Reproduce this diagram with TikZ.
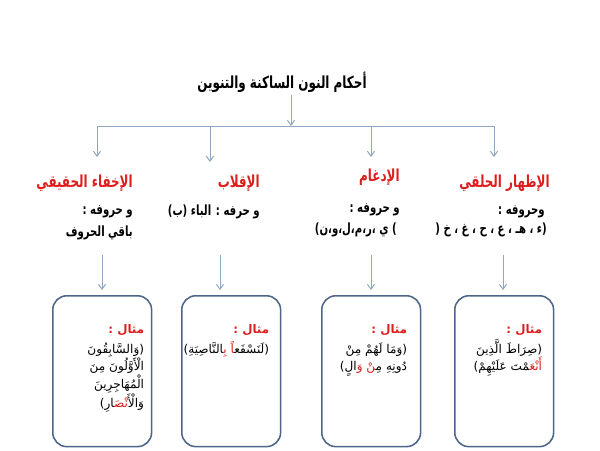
\documentclass[tikz,border=0pt]{standalone}
\usepackage{fontspec}
\usepackage{xcolor}
\newfontfamily\arabicfont[Script=Arabic]{DejaVu Sans}
\newfontfamily\arabichd[Script=Arabic,FakeStretch=0.72]{DejaVu Sans}
\TeXXeTstate=1
\usetikzlibrary{positioning,arrows.meta}
\definecolor{hdred}{RGB}{220,30,30}
\definecolor{lnblue}{RGB}{142,166,190}
\definecolor{bxblue}{RGB}{76,101,136}
\newcommand{\rl}[1]{\beginR #1\endR}
\newcommand{\zj}{^^^^200d}
\newcommand{\exhead}{{\color{hdred}\bfseries\fontsize{8.4}{10}\selectfont\rl{مثال :}}}

\begin{document}
\begin{tikzpicture}[x=0.025cm,y=-0.025cm,
  conn/.style={lnblue,line width=0.7pt},
  arr/.style={conn,-{Straight Barb[length=3.5pt,width=5pt]}},
  head/.style={anchor=east,inner sep=0pt,text=hdred,font=\arabichd\bfseries\fontsize{11.8}{14}\selectfont},
  sub/.style={anchor=east,inner sep=0pt,font=\arabichd\bfseries\fontsize{10}{12}\selectfont},
  exbox/.style={draw=bxblue,line width=1.1pt,rounded corners=10pt,anchor=north west,inner sep=0pt,minimum width=2.47cm,minimum height=3.77cm},
  extext/.style={anchor=north east,inner sep=0pt,align=right,font=\arabicfont\fontsize{8.6}{12.2}\selectfont}]
  \useasboundingbox (0,0) rectangle (600,450);

  % title and bar
  \node[font=\arabichd\bfseries\fontsize{11.8}{14}\selectfont] (title) at (282,82) {\rl{أحكام النون الساكنة والتنوين}};
  \coordinate (tstub) at (291,95);
  \coordinate (barM) at (291,126);
  \coordinate (barL) at (97,126);
  \coordinate (barR) at (494,126);
  \draw[arr] (tstub) -- (barM);
  \draw[conn] (barL) -- (barR);
  \foreach \x/\e [count=\i] in {97/157,210/162,371/157,494/157}{
    \coordinate (top\i) at (\x,126);
    \coordinate (tip\i) at (\x,\e);
    \draw[arr] (top\i) -- (tip\i);
  }

  % headers
  \node[head] (ikhfa) at (133,183) {\rl{الإخفاء الحقيقي}};
  \node[head] (iqlab) at (260,183) {\rl{الإقلاب}};
  \node[head] (idgham) at (400,177) {\rl{الإدغام}};
  \node[head] (izhar) at (550,183) {\rl{الإظهار الحلقي}};

  \node[sub] (ikhfa1) at (133,212) {\rl{و حروفه :}};
  \node[sub] (ikhfa2) at (133,233) {\rl{باقي الحروف}};
  \node[sub] (iqlab1) at (260,212) {\rl{و حرفه : الباء (ب)}};
  \node[sub] (idgham1) at (400,210) {\rl{و حروفه :}};
  \node[sub] (idgham2) at (397,230) {\rl{) ي ،ر،م،ل،و،ن)}};
  \node[sub] (izhar1) at (545,212) {\rl{وحروفه :}};
  \node[sub] (izhar2) at (547,230) {\rl{(ء ، هـ ، ع ، ح ، غ ، خ (}};

  % example boxes
  \node[exbox] (ex1) at (52,295) {};
  \node[exbox] (ex2) at (181,295) {};
  \node[exbox] (ex3) at (321,295) {};
  \node[exbox] (ex4) at (454,295) {};
  \foreach \x [count=\i] in {102,220,371,503}{
    \coordinate (low\i) at (\x,255);
    \draw[arr,shorten >=3.5pt] (low\i) -- (low\i |- ex\i.north);
  }

  % example texts, coloured lines written left to right
  \node[extext,below left=0.74cm and 0.2cm of ex1.north east] (t1) {\exhead\\[2pt]
    \rl{(وَالسَّابِقُونَ}\\ \rl{الْأَوَّلُونَ مِنَ}\\ \rl{الْمُهَاجِرِينَ}\\
    \zj ارِ)\textcolor{hdred}{نْصَ\zj}وَالْأَ};
  \node[extext,below left=0.74cm and 0.3cm of ex2.north east] (t2) {\exhead\\[2pt]
    \zj النَّاصِيَةِ)\textcolor{hdred}{بِ\zj\ \zj اً}(لَنَسْفَع\zj};
  \node[extext,below left=0.74cm and 0.35cm of ex3.north east] (t3) {\exhead\\[2pt]
    \rl{(وَمَا لَهُمْ مِنْ}\\ الٍ)\textcolor{hdred}{وَ\ \zj نْ}مِ\zj\ دُونِهِ};
  \node[extext,below left=0.74cm and 0.3cm of ex4.north east] (t4) {\exhead\\[2pt]
    \rl{(صِرَاطَ الَّذِينَ}\\ عَلَيْهِمْ)\ \zj مْتَ\textcolor{hdred}{أَنْعَ\zj}};
\end{tikzpicture}
\end{document}
